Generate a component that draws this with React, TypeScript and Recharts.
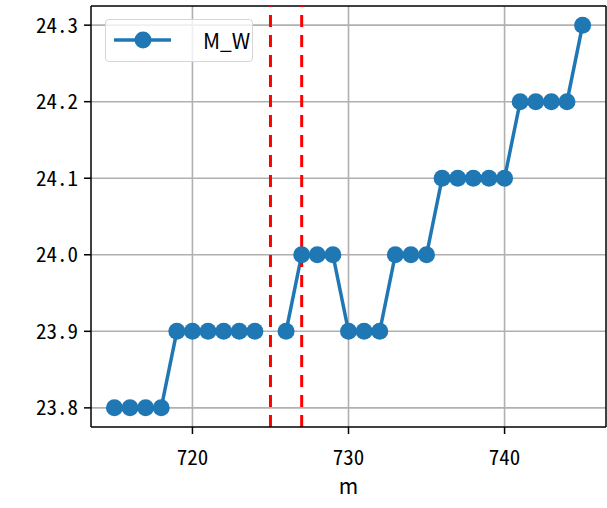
import { LineChart, Line, XAxis, YAxis, CartesianGrid, ReferenceLine, Legend } from "recharts"

const months = [715, 716, 717, 718, 719, 720, 721, 722, 723, 724, 725, 726, 727, 728, 729, 730, 731, 732, 733, 734, 735, 736, 737, 738, 739, 740, 741, 742, 743, 744, 745]
const mW = [23.8, 23.8, 23.8, 23.8, 23.9, 23.9, 23.9, 23.9, 23.9, 23.9, null, 23.9, 24.0, 24.0, 24.0, 23.9, 23.9, 23.9, 24.0, 24.0, 24.0, 24.1, 24.1, 24.1, 24.1, 24.1, 24.2, 24.2, 24.2, 24.2, 24.3]
const xTicks = [720, 730, 740]
const yTicks = [23.8, 23.9, 24.0, 24.1, 24.2, 24.3]
const markers = [725, 727]

const data = months.map((m, i) => ({ m, M_W: mW[i] }))

const font = "'Noto Sans CJK JP', 'DejaVu Sans', sans-serif"
const tickStyle = {
  fontFamily: font,
  fontSize: 21,
  fill: "#000",
  style: { fontFeatureSettings: '"hwid" 1', fontFamily: font },
}

const xMin = 713.5
const xMax = 746.5
const yMin = 23.775
const yMax = 24.325

function XTick(props: any) {
  const { x, y, payload } = props
  return (
    <text
      x={x}
      y={y + 31}
      textAnchor="middle"
      fontFamily={font}
      fontSize={21}
      fill="#000"
      style={{ fontFeatureSettings: '"hwid" 1' }}
    >
      {payload.value}
    </text>
  )
}

function LegendBox() {
  return (
    <div
      style={{
        position: "absolute",
        left: 105,
        top: 19,
        width: 148,
        height: 43,
        border: "1px solid #d6d6d6",
        borderRadius: 4,
        background: "rgba(255,255,255,0.8)",
        boxSizing: "border-box",
        fontFamily: font,
        fontSize: 21,
      }}
    >
      <svg width={70} height={43} style={{ position: "absolute", left: 0, top: 0 }}>
        <line x1={8} y1={20} x2={65} y2={20} stroke="#1f77b4" strokeWidth={3.5} />
        <circle cx={37} cy={20} r={8.5} fill="#1f77b4" />
      </svg>
      <span style={{ position: "absolute", left: 97, top: 5, lineHeight: "30px" }}>M_W</span>
    </div>
  )
}

export default function App() {
  return (
    <div style={{ position: "absolute", left: 0, top: 0, width: 607, height: 508, background: "#fff" }}>
      <LineChart width={607} height={508} data={data} margin={{ top: 6, right: 1, left: 0, bottom: 0 }}>
        <CartesianGrid stroke="#b0b0b0" strokeWidth={1.6} verticalValues={xTicks} horizontalValues={yTicks} />
        <XAxis
          dataKey="m"
          type="number"
          domain={[xMin, xMax]}
          ticks={xTicks}
          allowDataOverflow
          height={81}
          tick={<XTick />}
          tickSize={7}
          tickMargin={0}
          stroke="#000"
          strokeWidth={1.5}
          label={{ value: "m", position: "insideTop", offset: 52, style: { fontFamily: font, fontSize: 21, fill: "#000" } }}
        />
        <YAxis
          type="number"
          domain={[yMin, yMax]}
          ticks={yTicks}
          allowDataOverflow
          width={91}
          tick={tickStyle}
          tickSize={7}
          tickMargin={6}
          tickFormatter={(v: number) => v.toFixed(1)}
          stroke="#000"
          strokeWidth={1.5}
        />
        <ReferenceLine y={yMax} stroke="#000" strokeWidth={1.5} />
        <ReferenceLine x={xMax} stroke="#000" strokeWidth={1.5} />
        <Line
          dataKey="M_W"
          stroke="#1f77b4"
          strokeWidth={3.5}
          dot={{ r: 8.5, fill: "#1f77b4", stroke: "#1f77b4", strokeWidth: 0 }}
          activeDot={false}
          connectNulls={false}
          isAnimationActive={false}
        />
        {markers.map((x) => (
          <ReferenceLine key={x} x={x} stroke="#ff0000" strokeWidth={3} strokeDasharray="12 8" />
        ))}
        <Legend content={() => <LegendBox />} wrapperStyle={{ position: "absolute", left: 0, top: 0, width: 0, height: 0 }} />
      </LineChart>
    </div>
  )
}
